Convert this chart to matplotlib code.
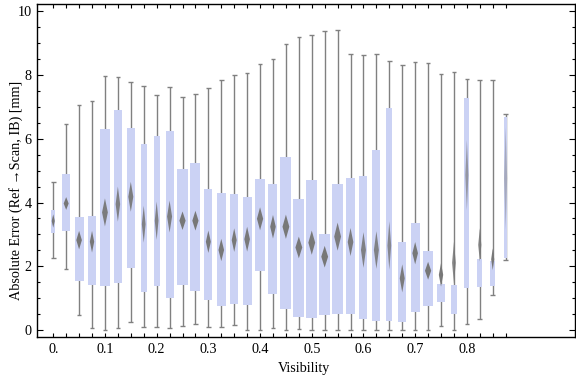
import numpy as np
import matplotlib
matplotlib.use("Agg")
import matplotlib.pyplot as plt
from matplotlib.patches import Rectangle, Polygon

# ---- data ----
visibility = [0.0, 0.025, 0.05, 0.075, 0.1, 0.125, 0.15, 0.175, 0.2, 0.225,
              0.25, 0.275, 0.3, 0.325, 0.35, 0.375, 0.4, 0.425, 0.45, 0.475,
              0.5, 0.525, 0.55, 0.575, 0.6, 0.625, 0.65, 0.675, 0.7, 0.725,
              0.75, 0.775, 0.8, 0.825, 0.85, 0.875]

whisker_low = [2.25, 1.90, 0.46, 0.05, 0.00, 0.05, 0.26, 0.08, 0.08, 0.05,
               0.12, 0.18, 0.08, 0.08, 0.15, 0.00, 0.00, 0.05, 0.00, 0.02,
               0.00, 0.00, 0.00, 0.00, 0.00, 0.00, 0.00, 0.00, 0.00, 0.00,
               0.12, 0.00, 0.18, 0.33, 1.09, 2.19]
quartile_1 = [3.05, 3.12, 1.55, 1.41, 1.39, 1.49, 1.96, 1.19, 1.38, 1.01,
              1.41, 1.22, 0.94, 0.75, 0.82, 0.78, 1.85, 1.14, 0.67, 0.42,
              0.39, 0.48, 0.51, 0.51, 0.36, 0.29, 0.29, 0.26, 0.58, 0.76,
              0.89, 0.49, 1.31, 1.36, 1.39, 2.25]
median = [3.42, 3.97, 2.82, 2.77, 3.69, 3.95, 4.18, 3.32, 3.43, 3.56,
          3.43, 3.43, 2.77, 2.51, 2.82, 2.85, 3.49, 3.24, 3.24, 2.59,
          2.74, 2.30, 2.93, 2.76, 2.51, 2.51, 2.65, 1.62, 2.41, 1.86,
          1.73, 2.11, 4.86, 2.67, 2.22, 4.76]
quartile_3 = [3.77, 4.90, 3.55, 3.58, 6.31, 6.90, 6.34, 5.83, 6.09, 6.24,
              5.05, 5.24, 4.42, 4.30, 4.27, 4.17, 4.74, 4.58, 5.43, 4.11,
              4.71, 3.01, 4.58, 4.77, 4.83, 5.65, 6.97, 2.76, 3.36, 2.48,
              1.44, 1.41, 7.28, 2.23, 2.17, 6.67]
whisker_high = [4.63, 6.45, 7.05, 7.18, 7.96, 7.93, 7.77, 7.65, 7.36, 7.62,
                7.30, 7.40, 7.58, 7.83, 7.99, 8.06, 8.35, 8.49, 8.97, 9.18,
                9.25, 9.37, 9.40, 8.66, 8.63, 8.66, 8.43, 8.31, 8.40, 8.37,
                8.02, 8.09, 7.89, 7.83, 7.86, 6.77]
median_interval = [0.21, 0.20, 0.29, 0.34, 0.44, 0.55, 0.47, 0.58, 0.60, 0.50,
                   0.29, 0.31, 0.35, 0.35, 0.37, 0.39, 0.36, 0.37, 0.38, 0.34,
                   0.38, 0.34, 0.44, 0.44, 0.56, 0.59, 0.76, 0.44, 0.35, 0.28,
                   0.37, 0.65, 1.10, 0.52, 0.34, 1.60]
sample_weight = [0.36, 0.73, 0.82, 0.64, 0.85, 0.66, 0.73, 0.55, 0.55, 0.73,
                 0.91, 0.91, 0.73, 0.82, 0.73, 0.82, 0.91, 0.82, 1.00, 1.00,
                 1.00, 1.00, 1.00, 0.82, 0.73, 0.73, 0.55, 0.73, 0.82, 0.91,
                 0.64, 0.55, 0.45, 0.45, 0.45, 0.27]

xtick_labels = ["0.", "", "", "", "0.1", "", "", "", "0.2", "", "", "", "0.3", "", "", "",
                "0.4", "", "", "", "0.5", "", "", "", "0.6", "", "", "", "0.7", "", "", "",
                "0.8", "", "", ""]
ytick_values = [0, 2, 4, 6, 8, 10]

# ---- style ----
BOX_COLOR = "#cbd2f4"
WHISKER_COLOR = "#808080"
DIAMOND_COLOR = "#777777"
MAX_BOX_W = 0.0213
CAP_HALF = 0.0045
FS = 10.2

plt.rcParams["font.family"] = ["Liberation Serif", "DejaVu Serif"]

W, H = 576, 377
fig = plt.figure(figsize=(W / 100, H / 100), dpi=100)
left, right, bottom, top = 36.7, 575.5, 336.7, 4.3
ax = fig.add_axes([left / W, (H - bottom) / H, (right - left) / W, (bottom - top) / H])

for x, lo, q1, md, q3, hi, ci, w in zip(visibility, whisker_low, quartile_1, median,
                                         quartile_3, whisker_high, median_interval,
                                         sample_weight):
    bw = w * MAX_BOX_W
    ax.plot([x, x], [lo, hi], color=WHISKER_COLOR, lw=1.0, zorder=1, solid_capstyle="butt")
    for y in (lo, hi):
        ax.plot([x - CAP_HALF, x + CAP_HALF], [y, y], color=WHISKER_COLOR, lw=1.0, zorder=1,
                solid_capstyle="butt")
    ax.add_patch(Rectangle((x - bw / 2, q1), bw, q3 - q1, facecolor=BOX_COLOR,
                           edgecolor="none", zorder=2))
    dw = max(bw * 0.31, 0.003)
    alpha = float(np.clip(1.15 - 0.45 * ci, 0.4, 1.0))
    ax.add_patch(Polygon([[x - dw, md], [x, md + ci], [x + dw, md], [x, md - ci]],
                         closed=True, facecolor=DIAMOND_COLOR, edgecolor="none",
                         alpha=alpha, zorder=3))

ax.set_xlim(-0.032, 1.0101)
ax.set_ylim(-0.21, 10.22)

ax.set_xticks(visibility)
ax.set_xticklabels(xtick_labels)
ax.set_yticks(ytick_values)
ax.set_yticks(np.arange(0, 10.01, 0.5), minor=True)

ax.tick_params(axis="x", which="major", direction="in", length=3.0, width=0.8,
               top=True, bottom=True, labelsize=FS, pad=4.3, color="black")
ax.tick_params(axis="y", which="major", direction="in", length=4.3, width=0.8,
               left=True, right=True, labelsize=FS, pad=3.6)
ax.tick_params(axis="y", which="minor", direction="in", length=2.5, width=0.8,
               left=True, right=True)
for s in ax.spines.values():
    s.set_linewidth(1.0)

ax.set_xlabel("Visibility", fontsize=FS, va="center")
ax.xaxis.set_label_coords(0.496, -0.097)
ax.set_ylabel("Absolute Error (Ref \u2192Scan, IB) [mm]", fontsize=FS, va="center")
ax.yaxis.set_label_coords(-0.039, 0.441)

fig.savefig("out.png", dpi=100)
